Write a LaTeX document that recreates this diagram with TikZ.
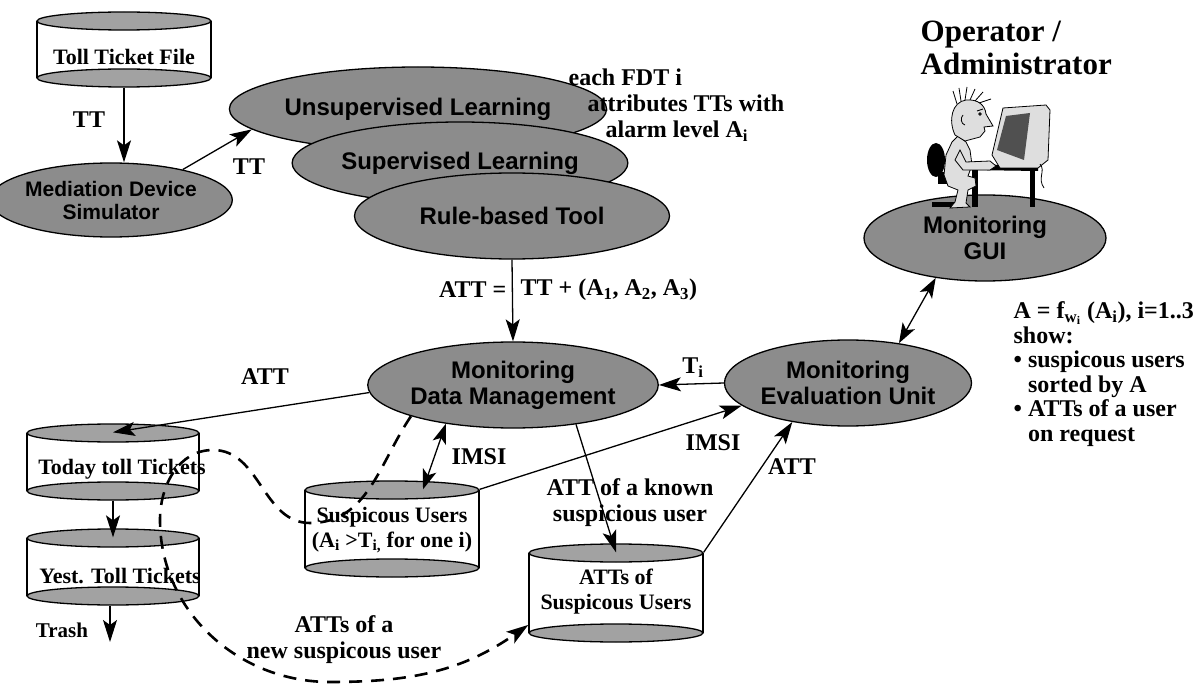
\documentclass[tikz,border=0pt]{standalone}
\usepackage{fontspec}
\setmainfont{Liberation Serif}
\newfontfamily\helv{Liberation Sans}
\usetikzlibrary{arrows.meta,shapes.geometric,calc}

\definecolor{blobgray}{RGB}{140,140,140}
\definecolor{capgray}{RGB}{162,162,162}
\definecolor{skin}{RGB}{222,222,222}
\definecolor{screen}{RGB}{80,80,80}

% database drum: name, x, top y, bottom y, half width
\newcommand{\tank}[5]{%
  \fill[white] (#2-#5,#3) rectangle (#2+#5,#4);
  \draw (#2-#5,#3) -- (#2-#5,#4) (#2+#5,#3) -- (#2+#5,#4);
  \draw[drumcap] (#2,#4) ellipse [x radius=#5, y radius=9];
  \draw[drumcap] (#2,#3) ellipse [x radius=#5, y radius=9];
  \node[tankbox, minimum width={2*#5*1pt}, minimum height={(#4-#3+18)*1pt}]
    (#1) at (#2,{(#3+#4)/2}) {};
}

\begin{document}
\begin{tikzpicture}[
  x=1pt, y=-1pt, line width=1.3pt,
  blob/.style={ellipse, draw, fill=blobgray, inner sep=0pt, align=center,
               font=\helv\bfseries\fontsize{24}{26}\selectfont},
  drumcap/.style={draw, fill=capgray},
  tankbox/.style={rectangle, inner sep=0pt},
  tanklbl/.style={align=center, inner sep=0pt, font=\bfseries\fontsize{22}{25}\selectfont},
  lbl/.style={align=center, inner sep=0pt, font=\bfseries\fontsize{24}{26}\selectfont},
  arr/.style={-{Stealth[length=22pt,width=14pt,inset=5pt]}},
  arr2/.style={{Stealth[length=20pt,width=14pt,inset=5pt]}-{Stealth[length=20pt,width=14pt,inset=5pt]}},
  newuser/.style={arr, dash pattern=on 13pt off 9pt, line width=2.6pt},
]
\useasboundingbox (0,0) rectangle (1203,687);

% --- stores ---
\tank{ttf}{124}{21}{78}{87}
\node[tanklbl] (ttf-l) at (124,57) {Toll Ticket File};
\tank{today}{113}{433}{491}{86}
\node[tanklbl] (today-l) at (122,469) {Today toll Tickets};
\tank{yest}{113}{538}{596}{86}
\node[tanklbl] (yest-l) at (120,576) {Yest. Toll Tickets};
\tank{sus}{392}{490}{568}{87}
\node[tanklbl] (sus-l) at (392,530) {Suspicous Users\\(A\textsubscript{i} >T\textsubscript{i,} for one i)};
\tank{ats}{616}{553}{633}{87}
\node[tanklbl] (ats-l) at (616,592) {ATTs of\\Suspicous Users};

% --- processing units ---
\node[blob, minimum width=198pt, minimum height=74pt,
      font=\helv\bfseries\fontsize{21}{23}\selectfont] (mds) at (111,200) {Mediation Device\\Simulator};
\node[blob, minimum width=316pt, minimum height=84pt] (usl) at (418,109) {Unsupervised Learning};
\node[blob, minimum width=316pt, minimum height=82pt] (sl) at (460,163) {Supervised Learning};
\node[blob, minimum width=315pt, minimum height=86pt] (rbt) at (512,216) {Rule-based Tool};
\node[blob, minimum width=270pt, minimum height=86pt] (mdm) at (513,385) {Monitoring\\Data Management};
\node[blob, minimum width=240pt, minimum height=86pt] (meu) at (848,383) {Monitoring\\Evaluation Unit};
\node[blob, minimum width=242pt, minimum height=86pt] (gui) at (985,238) {Monitoring\\GUI};

% --- operator at the terminal ---
\begin{scope}[line width=0.8pt]
  % chair
  \fill[black] (936,160) ellipse [x radius=9, y radius=17];
  \fill[black] (938,172) rectangle (965,184);
  \fill[black] (961,182) rectangle (966,206);
  \fill[black] (932,202) rectangle (966,207);
  % desk
  \fill[black] (970,164) -- (1038,166) -- (1038,171) -- (970,170) -- cycle;
  \fill[black] (972,166) rectangle (978,207);
  \fill[black] (1030,168) rectangle (1035,207);
  % body and legs
  \filldraw[fill=skin] (958,136) -- (966,142) -- (970,150) -- (972,165) -- (968,176)
    -- (975,178) -- (976,186) -- (968,190) -- (966,203) -- (970,207) -- (950,208)
    -- (955,202) -- (958,190) -- (948,186) -- (944,175) -- (946,155) -- (952,142) -- cycle;
  % arm
  \filldraw[fill=skin] (960,150) -- (966,162) -- (990,161) -- (996,166) -- (990,170)
    -- (963,170) -- (955,160) -- cycle;
  % head
  \filldraw[fill=skin] (955,135) .. controls (948,120) and (952,102) .. (966,100)
    .. controls (978,99) and (985,105) .. (986,114) -- (993,126) -- (984,127)
    -- (985,131) -- (980,137) -- (965,141) -- cycle;
  \draw (977,111) -- (983,109) (980,114) circle [radius=1.2];
  \draw (963,115) .. controls (960,118) and (961,124) .. (965,125);
  % hair
  \draw (957,104) -- (953,91) (961,101) -- (959,88) (965,100) -- (967,87)
        (970,100) -- (975,89) (975,101) -- (983,92) (979,103) -- (991,99);
  % monitor
  \filldraw[fill=skin] (992,155) -- (1003,108) -- (1046,105) -- (1050,110)
    -- (1048,160) -- (1038,168) -- (1000,168) -- cycle;
  \fill[screen] (997,150) -- (1006,116) -- (1030,113) -- (1024,160) -- cycle;
  \draw (1040,164) .. controls (1046,171) and (1037,178) .. (1044,188);
\end{scope}

% --- annotations ---
\node[lbl, font=\bfseries\fontsize{31}{33}\selectfont, align=left, anchor=west]
  (who) at (920,48) {Operator /\\Administrator};
\node[lbl, align=left, anchor=north west] (fdt) at (568,68)
  {each FDT i\\\hspace*{19pt}attributes TTs with\\\hspace*{37pt}alarm level A\textsubscript{i}};
\node[lbl, font=\bfseries\fontsize{24}{24.5}\selectfont, align=left, anchor=north west]
  (show) at (1013,301)
  {A = f\textsubscript{w\textsubscript{i}} (A\textsubscript{i}), i=1..3\\
   show:\\
   \textbullet\ suspicous users\\
   \hspace*{14.5pt}sorted by A\\
   \textbullet\ ATTs of a user\\
   \hspace*{14.5pt}on request};

% --- data flow ---
\draw[arr] (ttf.south) -- (ttf.south |- mds.north);
\node[lbl] (tt1) at (89,120) {TT};
\draw[arr] (mds.23) -- (usl.187);
\node[lbl] (tt2) at (249,167) {TT};

\draw[arr] (rbt.south) -- (mdm.north);
\node[lbl, anchor=east] (att-a) at (507,290) {ATT =};
\node[lbl, anchor=west] (att-b) at (520,290) {TT + (A\textsubscript{1}, A\textsubscript{2}, A\textsubscript{3})};

\draw[arr] (meu.west) -- (mdm.east);
\node[lbl] (ti) at (693,368) {T\textsubscript{i}};

\draw[arr] (mdm.183) -- ([yshift=-9pt]today.north);
\node[lbl] (att1) at (265,377) {ATT};
\draw[arr] (today.south) -- ([yshift=-9pt]yest.north);
\coordinate (trash) at (110,642);
\draw[arr] (yest.south -| trash) -- (trash);
\node[lbl, font=\bfseries\fontsize{21}{23}\selectfont] (trash-l) at (62,630) {Trash};

\draw[arr2] (mdm.210) -- ([xshift=31pt,yshift=-9pt]sus.north);
\node[lbl] (imsi1) at (479,457) {IMSI};
\draw[arr] ([yshift=-9pt]sus.north east) -- (meu.192);
\node[lbl] (imsi2) at (713,443) {IMSI};

\draw[arr] (mdm.-32) -- ([yshift=-9pt]ats.north);
\node[lbl] (known) at (630,503) {ATT of a known\\suspicious user};
\draw[arr] ([yshift=-9pt]ats.north east) -- (meu.-145);
\node[lbl] (att2) at (792,467) {ATT};

\draw[arr2] (meu.38) -- (gui.-141);

% new suspicious user: copied over from the daily tickets
\draw[newuser] (mdm.197) to[out=236,in=0] (310,523) to[out=180,in=0] (213,450)
  to[out=180,in=90] (160,520) to[out=270,in=180] (330,682) to[out=0,in=215] (ats.200);
\node[lbl] (newu) at (344,640) {ATTs of a\\new suspicous user};

\end{tikzpicture}
\end{document}
